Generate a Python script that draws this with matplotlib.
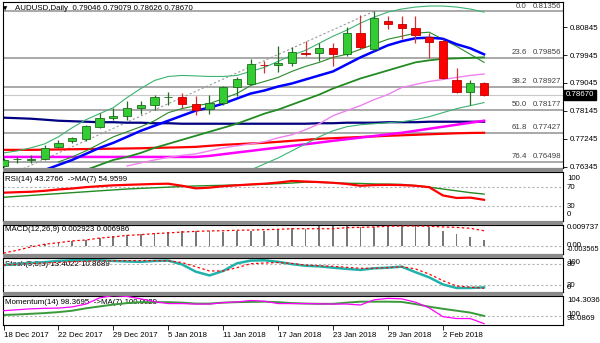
import numpy as np
import matplotlib.pyplot as plt
from matplotlib.patches import Rectangle
from matplotlib.transforms import offset_copy

plt.rcParams['font.family'] = ['Liberation Sans', 'DejaVu Sans']
plt.rcParams['font.size'] = 5.7

nan = np.nan

# --- daily bars -------------------------------------------------------------
dates = ["18 Dec 2017", "19 Dec 2017", "20 Dec 2017", "21 Dec 2017", "22 Dec 2017",
         "26 Dec 2017", "27 Dec 2017", "28 Dec 2017", "29 Dec 2017", "2 Jan 2018",
         "3 Jan 2018", "4 Jan 2018", "5 Jan 2018", "8 Jan 2018", "9 Jan 2018",
         "10 Jan 2018", "11 Jan 2018", "12 Jan 2018", "15 Jan 2018", "16 Jan 2018",
         "17 Jan 2018", "18 Jan 2018", "19 Jan 2018", "22 Jan 2018", "23 Jan 2018",
         "24 Jan 2018", "25 Jan 2018", "26 Jan 2018", "29 Jan 2018", "30 Jan 2018",
         "31 Jan 2018", "1 Feb 2018", "2 Feb 2018", "5 Feb 2018", "6 Feb 2018",
         "7 Feb 2018"]

opens = [0.76367, 0.76578, 0.76575, 0.76604, 0.76974, 0.77188, 0.77234, 0.77623, 0.77915,
         0.77990, 0.78240, 0.78324, 0.78587, 0.78597, 0.78379, 0.78207, 0.78402, 0.78908,
         0.78996, 0.79629, 0.79612, 0.79700, 0.80018, 0.80002, 0.80164, 0.79969, 0.80641,
         0.80129, 0.81040, 0.80952, 0.80823, 0.80544, 0.80401, 0.79126, 0.78746, 0.79046]
highs = [0.76627, 0.76669, 0.76724, 0.77049, 0.77211, 0.77318, 0.77698, 0.78077, 0.78240,
         0.78454, 0.78454, 0.78671, 0.78746, 0.78726, 0.78639, 0.78671, 0.78941, 0.79246,
         0.79807, 0.79752, 0.80239, 0.80206, 0.80401, 0.80326, 0.80326, 0.80836, 0.81235,
         0.81356, 0.81193, 0.81212, 0.81212, 0.80673, 0.80456, 0.79538, 0.79126, 0.79079]
lows = [0.76335, 0.76455, 0.76474, 0.76562, 0.76942, 0.77123, 0.77188, 0.77591, 0.77837,
        0.77837, 0.78055, 0.78162, 0.78347, 0.78240, 0.78022, 0.78045, 0.78347, 0.78616,
        0.78973, 0.79375, 0.79408, 0.79580, 0.79914, 0.79752, 0.79590, 0.79914, 0.80129,
        0.80076, 0.80781, 0.80456, 0.80349, 0.79862, 0.79158, 0.78726, 0.78347, 0.78626]
closes = [0.76562, 0.76594, 0.76591, 0.76942, 0.77123, 0.77266, 0.77643, 0.77915, 0.77990,
          0.78240, 0.78324, 0.78597, 0.78600, 0.78379, 0.78184, 0.78402, 0.78908, 0.79158,
          0.79645, 0.79612, 0.79687, 0.80034, 0.79986, 0.80187, 0.79969, 0.80641, 0.80219,
          0.81128, 0.80952, 0.80823, 0.80586, 0.80368, 0.79191, 0.78746, 0.79051, 0.78670]

# --- overlays on the price chart ----------------------------------------------
bb_upper = [0.76789, 0.76854, 0.76952, 0.77081, 0.77308, 0.77600, 0.77860, 0.78055, 0.78249,
            0.78574, 0.78866, 0.79126, 0.79255, 0.79288, 0.79272, 0.79255, 0.79255, 0.79288,
            0.79418, 0.79548, 0.79742, 0.79937, 0.80099, 0.80326, 0.80553, 0.80748, 0.80975,
            0.81170, 0.81332, 0.81430, 0.81494, 0.81527, 0.81527, 0.81494, 0.81430, 0.81332]
bb_lower = [nan] * 18 + [0.76238, 0.76432, 0.76627, 0.76854, 0.77081, 0.77308, 0.77503,
                         0.77633, 0.77698, 0.77730, 0.77763, 0.77795, 0.77860, 0.77957,
                         0.78087, 0.78217, 0.78314, 0.78412]
bb_middle = [nan] * 6 + [0.76238, 0.76400, 0.76562, 0.76659, 0.76789, 0.76952, 0.77081,
                         0.77211, 0.77341, 0.77471, 0.77600, 0.77730, 0.77892, 0.78055,
                         0.78185, 0.78347, 0.78509, 0.78671, 0.78866, 0.79028, 0.79191,
                         0.79320, 0.79450, 0.79580, 0.79710, 0.79775, 0.79823, 0.79839,
                         0.79856, 0.79872]
fast_ma = [nan] * 4 + [0.76497, 0.76659, 0.76854, 0.77081, 0.77308, 0.77471, 0.77633, 0.77827,
                       0.78087, 0.78217, 0.78314, 0.78379, 0.78541, 0.78704, 0.78963, 0.79093,
                       0.79223, 0.79418, 0.79580, 0.79710, 0.79872, 0.79969, 0.80132, 0.80294,
                       0.80456, 0.80553, 0.80651, 0.80683, 0.80456, 0.80229, 0.79969, 0.79710]
ema_blue = [nan] * 3 + [0.76238, 0.76400, 0.76562, 0.76757, 0.76952, 0.77114, 0.77308, 0.77503,
                        0.77665, 0.77827, 0.77990, 0.78152, 0.78249, 0.78379, 0.78541, 0.78704,
                        0.78801, 0.78931, 0.79028, 0.79158, 0.79288, 0.79418, 0.79645, 0.79872,
                        0.80067, 0.80261, 0.80391, 0.80488, 0.80505, 0.80472, 0.80294, 0.80164,
                        0.79969]
ma_violet = [nan] * 9 + [0.76368, 0.76465, 0.76562, 0.76643, 0.76708, 0.76757, 0.76854,
                         0.76952, 0.77017, 0.77081, 0.77146, 0.77276, 0.77373, 0.77536,
                         0.77730, 0.77990, 0.78152, 0.78314, 0.78509, 0.78671, 0.78898,
                         0.78996, 0.79093, 0.79158, 0.79223, 0.79288, 0.79336]
ma_magenta = [0.76659] * 15 + [0.76692, 0.76747, 0.76802, 0.76854, 0.76909, 0.76961, 0.77017,
                               0.77068, 0.77123, 0.77179, 0.77231, 0.77282, 0.77334, 0.77386,
                               0.77438, 0.77503, 0.77568, 0.77633, 0.77698, 0.77763, 0.77827]
ma_red = [0.76887, 0.76887, 0.76887, 0.76893, 0.76900, 0.76906, 0.76913, 0.76919, 0.76926,
          0.76932, 0.76939, 0.76952, 0.76961, 0.76971, 0.76984, 0.77017, 0.77049, 0.77071,
          0.77094, 0.77114, 0.77146, 0.77179, 0.77211, 0.77244, 0.77263, 0.77282, 0.77302,
          0.77321, 0.77341, 0.77357, 0.77373, 0.77390, 0.77406, 0.77422, 0.77432, 0.77438]
ma_navy = [0.77925, 0.77909, 0.77892, 0.77860, 0.77827, 0.77811, 0.77795, 0.77779, 0.77779,
           0.77763, 0.77763, 0.77746, 0.77746, 0.77730, 0.77730, 0.77730, 0.77730, 0.77730,
           0.77730, 0.77730, 0.77730, 0.77730, 0.77730, 0.77746, 0.77746, 0.77763, 0.77763,
           0.77763, 0.77779, 0.77779, 0.77779, 0.77795, 0.77795, 0.77795, 0.77795, 0.77795]

# fibonacci retracement drawn from the low to the high
fib_bars = [-5, 27]
fib_ends = [0.75000, 0.81356]
fib_levels = ["0.0", "23.6", "38.2", "50.0", "61.8", "76.4"]
fib_prices = [0.81356, 0.79856, 0.78927, 0.78177, 0.77427, 0.76498]

price_ticks = [0.80845, 0.79945, 0.79045, 0.78145, 0.77245, 0.76345]
last_price = 0.78670

# --- oscillators --------------------------------------------------------------
rsi = [57.8, 58.8, 59.7, 61.6, 64.4, 66.3, 69.1, 71.0, 72.8, 73.8, 74.7, 75.6, 76.1, 71.9,
       66.6, 68.1, 71.0, 72.8, 74.7, 76.1, 78.4, 81.7, 80.6, 79.4, 78.0, 75.6, 71.9, 73.3,
       73.8, 73.3, 71.9, 69.1, 52.2, 47.0, 47.7, 43.2766]
rsi_ma = [48.4, 50.3, 52.2, 54.1, 55.9, 57.8, 59.7, 61.6, 63.4, 65.3, 66.6, 67.8, 69.1, 70.3,
          71.5, 72.2, 72.8, 73.6, 74.2, 75.0, 76.2, 77.5, 79.4, 78.9, 78.0, 77.0, 76.6, 75.6,
          75.2, 74.7, 72.3, 69.1, 65.3, 61.6, 57.8, 54.9599]

macd_hist = [0.0001, 0.00015, 0.00045, 0.0009, 0.0017, 0.0022, 0.0028, 0.0037, 0.0046,
             0.0052, 0.0057, 0.0060, 0.0064, 0.0067, 0.0067, 0.0067, 0.0064, 0.0067, 0.0067,
             0.0070, 0.0076, 0.0082, 0.0079, 0.0090, 0.0090, 0.0093, 0.0087, 0.0088, 0.0096,
             0.009737, 0.0093, 0.0088, 0.0069, 0.0055, 0.0043, 0.002923]
macd_signal = [-0.0031, -0.0018, -0.0003, 0.0009, 0.0016, 0.0024, 0.0028, 0.0037, 0.0042,
               0.0049, 0.0052, 0.0057, 0.0060, 0.0064, 0.0067, 0.0069, 0.0070, 0.0072, 0.0073,
               0.0075, 0.0076, 0.0079, 0.0079, 0.0079, 0.0079, 0.0084, 0.0085, 0.0087, 0.0090,
               0.0091, 0.0091, 0.0090, 0.0087, 0.0085, 0.0081, 0.006986]

stoch_k = [78, 81, 84, 86.5, 90, 92, 92, 92, 90, 88.5, 87.4, 90, 91, 80, 59, 48, 61, 83, 91,
           92, 87.4, 81, 76, 74.3, 70.5, 67, 64, 68.7, 70.5, 73.4, 57.5, 42.5, 22, 11.7, 11.7,
           13.4022]
stoch_d = [78, 80.5, 82.7, 84, 86, 88, 89, 90, 90.5, 91, 91, 91, 90.5, 85.5, 73.4, 61, 61,
           70.5, 82, 84, 85.5, 82.7, 78, 76, 74.3, 71.5, 68.7, 68.7, 70.5, 73.4, 67, 52, 33,
           17.3, 14, 10.8689]

momentum = [101.1, 101.3, 101.5, 101.6, 101.65, 101.9, 102.5, 103.8, 104.3036, 104.1, 103.6,
            103.0, 102.6, 102.6, 102.5, 102.5, 102.8, 102.95, 103.25, 103.1, 102.6, 102.6,
            102.6, 102.55, 102.5, 102.5, 102.3, 103.4, 103.7, 103.6, 102.9, 101.7, 99.85,
            99.45, 99.45, 98.3695]
momentum_ma = [100.2, 100.3, 100.45, 100.6, 100.8, 101.1, 101.6, 102.0, 102.4, 102.7, 102.9,
               102.9, 102.9, 102.8, 102.6, 102.6, 102.8, 102.9, 102.95, 103.0, 102.9, 102.7,
               102.6, 102.55, 102.55, 102.8, 103.0, 103.0, 103.0, 102.95, 102.5, 101.95,
               101.5, 101.1, 100.7, 100.0029]

# --- figure layout (pixel based, MT4 style stacked windows) -------------------
W, H = 600, 343
LEFT, RIGHT = 2.5, 563
fig = plt.figure(figsize=(W / 100, H / 100), dpi=100)
fig.patch.set_facecolor('white')


def window(top, bottom):
    ax = fig.add_axes([LEFT / W, 1 - bottom / H, (RIGHT - LEFT) / W, (bottom - top) / H])
    ax.set_xlim(-0.073, 40.75)
    for s in ax.spines.values():
        s.set_linewidth(0.8)
        s.set_color('black')
    ax.set_xticks([])
    return ax


def put(ax, px, py, s, **kw):
    ax.text(px / W, 1 - py / H, s, transform=fig.transFigure, **kw)


windows = [(2, 168), (172, 221), (224.5, 254), (257.5, 292), (295.5, 325)]
for (t0, b0), (t1, b1) in zip(windows[:-1], windows[1:]):
    fig.add_artist(Rectangle((LEFT / W, 1 - t1 / H), (RIGHT - LEFT) / W, (t1 - b0) / H,
                             transform=fig.transFigure, facecolor='#8a8a8a',
                             edgecolor='none'))

ax = window(*windows[0])
ax_rsi = window(*windows[1])
ax_macd = window(*windows[2])
ax_sto = window(*windows[3])
ax_mom = window(*windows[4])

x = np.arange(len(dates))

# --- price window -----------------------------------------------------------
ax.set_ylim(0.76302, 0.81657)
for p in fib_prices:
    ax.axhline(p, color='#a3a3a3', lw=1.3, zorder=1)
ax.axhline(last_price, color='#c8c8c8', lw=0.8, zorder=1)
ax.plot(fib_bars, fib_ends, color='#9a9a9a', lw=0.8, ls=(0, (2, 2)), zorder=1.5)

ax.plot(x, ma_navy, color='#000080', lw=1.6, zorder=2)
ax.plot(x, ma_red, color='#ff0000', lw=1.6, zorder=2)
ax.plot(x, ma_magenta, color='#ff00ff', lw=1.8, zorder=2)
ax.plot(x, ma_violet, color='#ee82ee', lw=1.0, zorder=2)
ax.plot(x, bb_upper, color='#3cb371', lw=0.8, zorder=2)
ax.plot(x, bb_lower, color='#3cb371', lw=0.8, zorder=2)
ax.plot(x, bb_middle, color='#228b22', lw=1.3, zorder=2)
ax.plot(x, fast_ma, color='#2a8a2a', lw=0.8, zorder=2)
ax.plot(x, ema_blue, color='#0000ff', lw=1.8, zorder=2)

o = np.array(opens)
c = np.array(closes)
up = c >= o
body_lo = np.minimum(o, c)
body_h = np.maximum(np.abs(c - o), 0.00012)
wick_col = np.where(up, '#1e6e1e', '#d03030')
ax.vlines(x, lows, highs, colors=wick_col, lw=0.9, zorder=3)
ax.bar(x[up], body_h[up], bottom=body_lo[up], width=0.6, color='#33cc33',
       edgecolor='#1e6e1e', lw=0.6, zorder=4)
ax.bar(x[~up], body_h[~up], bottom=body_lo[~up], width=0.6, color='#ff0000',
       edgecolor='#c00000', lw=0.6, zorder=4)

ax.yaxis.tick_right()
ax.set_yticks(price_ticks)
ax.set_yticklabels([f"{p:.5f}" for p in price_ticks])
ax.tick_params(axis='y', length=3, width=0.6, pad=1.5, labelsize=5.7)

lvl_tr = offset_copy(ax.get_yaxis_transform(), fig=fig, y=1.2, units='points')
for lvl, p in zip(fib_levels, fib_prices):
    ax.text((527 - LEFT) / (RIGHT - LEFT), p, lvl, transform=lvl_tr, ha='right',
            va='bottom', color='#404040', zorder=5)
    ax.text((561 - LEFT) / (RIGHT - LEFT), p, f"{p:.5f}", transform=lvl_tr, ha='right',
            va='bottom', color='#404040', zorder=5)

ax.text(1.005, last_price, f"{last_price:.5f}", transform=ax.get_yaxis_transform(),
        color='white', va='center', ha='left', zorder=6, clip_on=False,
        bbox=dict(facecolor='black', edgecolor='black', pad=1.0))

put(ax, 3, 9, "\u25bc", fontsize=4, family='DejaVu Sans', va='center', zorder=6)
put(ax, 15, 9, "AUDUSD,Daily  {:.5f} {:.5f} {:.5f} {:.5f}".format(
    opens[-1], highs[-1], lows[-1], closes[-1]), va='center', zorder=6)

# --- RSI ------------------------------------------------------------------
ax_rsi.set_ylim(0, 100)
ax_rsi.set_yticks([])
for lv in (70, 30):
    ax_rsi.axhline(lv, color='#b4b4b4', lw=0.8, ls=(0, (2, 2)), zorder=1)
ax_rsi.plot(x, rsi_ma, color='#228b22', lw=1.0, zorder=2)
ax_rsi.plot(x, rsi, color='#ff0000', lw=1.6, zorder=2)
put(ax_rsi, 5, 180, f"RSI(14) {rsi[-1]:.4f}  ->MA(7) {rsi_ma[-1]:.4f}", va='center', zorder=1)
for s, py in (("100", 179), ("70", 187.5), ("30", 206.5), ("0", 215)):
    put(ax_rsi, 567, py, s, va='center')

# --- MACD -----------------------------------------------------------------
ax_macd.set_ylim(-0.0035, 0.0098)
ax_macd.set_yticks([])
ax_macd.axhline(0, color='#b4b4b4', lw=0.8, ls=(0, (2, 2)), zorder=1)
ax_macd.bar(x, macd_hist, width=0.13, color='#787878', zorder=2)
ax_macd.plot(x, macd_signal, color='#ff0000', lw=0.9, ls=(0, (2, 2)), zorder=3)
put(ax_macd, 5, 229.5, f"MACD(12,26,9) {macd_hist[-1]:.6f} {macd_signal[-1]:.6f}",
    va='center', zorder=1)
put(ax_macd, 567, 227.5, "0.009737", va='center')
put(ax_macd, 567, 245.5, "0.00", va='center')
put(ax_macd, 567, 249.5, "-0.003565", va='center', fontsize=5.2)

# --- Stochastic -----------------------------------------------------------
ax_sto.set_ylim(0, 100)
ax_sto.set_yticks([])
for lv in (80, 20):
    ax_sto.axhline(lv, color='#b4b4b4', lw=0.8, ls=(0, (2, 2)), zorder=1)
ax_sto.plot(x, stoch_k, color='#20b2aa', lw=1.8, zorder=2)
ax_sto.plot(x, stoch_d, color='#ff0000', lw=0.9, ls=(0, (2, 2)), zorder=3)
put(ax_sto, 5, 264.5, f"Stoch(5,3,3) {stoch_k[-1]:.4f} {stoch_d[-1]:.4f}", va='center',
    zorder=1)
for s, py in (("100", 262), ("80", 264.5), ("20", 285.5), ("0", 287.5)):
    put(ax_sto, 567, py, s, va='center')

# --- Momentum -------------------------------------------------------------
ax_mom.set_ylim(98.0869, 104.3036)
ax_mom.set_yticks([])
ax_mom.axhline(100, color='#b4b4b4', lw=0.8, ls=(0, (2, 2)), zorder=1)
ax_mom.plot(x, momentum_ma, color='#3a9a3a', lw=1.4, zorder=2)
ax_mom.plot(x, momentum, color='#ff00ff', lw=0.9, zorder=3)
put(ax_mom, 5, 302, f"Momentum(14) {momentum[-1]:.4f}  ->MA(7) {momentum_ma[-1]:.4f}",
    va='center', zorder=1)
put(ax_mom, 567, 300.7, "104.3036", va='center')
put(ax_mom, 567, 315, "100", va='center')
put(ax_mom, 567, 318.5, "98.0869", va='center')

ax_mom.set_xticks(x[::4])
ax_mom.set_xticklabels(dates[::4])
ax_mom.tick_params(axis='x', length=3.5, width=0.6, pad=1.5, labelsize=5.7)
plt.setp(ax_mom.get_xticklabels(), ha='left')

fig.savefig("out.png", dpi=100)
